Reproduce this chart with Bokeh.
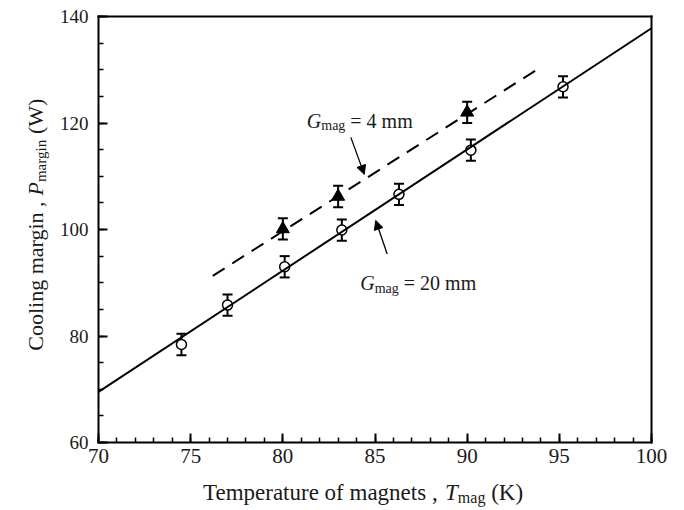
from bokeh.plotting import figure
from bokeh.models import (Range1d, SingleIntervalTicker, FixedTicker, LinearAxis,
                          ColumnDataSource, Whisker, TeeHead, Label, Arrow, NormalHead)
from bokeh.embed import file_html
from bokeh.resources import INLINE

# Measured cooling margin, G_mag = 20 mm (open circles)
circ_T = [74.5, 77.0, 80.1, 83.2, 86.3, 90.2, 95.2]
circ_P = [78.4, 85.8, 93.0, 99.9, 106.6, 114.9, 126.8]
circ_err = [2.0, 2.0, 2.0, 2.0, 2.0, 2.0, 2.0]

# Measured cooling margin, G_mag = 4 mm (filled triangles)
tri_T = [80.0, 83.0, 90.0]
tri_P = [100.1, 106.2, 122.0]
tri_err = [2.0, 2.0, 2.0]

# Linear fits
fit20_T = [70.0, 100.0]
fit20_P = [69.5, 137.8]
fit4_T = [76.2, 94.0]
fit4_P = [91.3, 130.5]

# axis extents and tick spacing
X_LIM = (70, 100)
Y_LIM = (60, 140)
X_STEP, Y_STEP = 5, 20

# page geometry (pixels): the axes box sits inside a full-canvas frame so that
# the axis titles with subscripts can be composed from text pieces
W, H = 684, 510
BOX_L, BOX_R, BOX_T, BOX_B = 98, 651, 16, 442
PX_X = (X_LIM[1] - X_LIM[0]) / (BOX_R - BOX_L)   # data units per pixel
PX_Y = (Y_LIM[1] - Y_LIM[0]) / (BOX_B - BOX_T)

x_range = Range1d(X_LIM[0] - BOX_L * PX_X, X_LIM[1] + (W - BOX_R) * PX_X)
y_range = Range1d(Y_LIM[0] - (H - BOX_B) * PX_Y, Y_LIM[1] + BOX_T * PX_Y)

FONT = "Liberation Serif"
INK = "#1a1a1a"

p = figure(frame_width=W, frame_height=H, x_range=x_range, y_range=y_range,
           x_axis_location=None, y_axis_location=None,
           output_backend="svg", toolbar_location=None, min_border=0)
p.grid.visible = False
p.outline_line_color = None
p.background_fill_color = "white"
p.border_fill_color = "white"


def style_axis(ax):
    ax.axis_line_width = 2
    ax.axis_line_color = "black"
    ax.axis_line_cap = "square"
    ax.major_tick_in = 9
    ax.major_tick_out = 0
    ax.minor_tick_in = 5
    ax.minor_tick_out = 0
    ax.major_tick_line_width = 2
    ax.minor_tick_line_width = 1.5
    ax.major_tick_line_color = "black"
    ax.minor_tick_line_color = "black"
    ax.major_label_text_font = FONT
    ax.major_label_text_color = INK
    return ax


xaxis = style_axis(LinearAxis(fixed_location=Y_LIM[0], bounds=X_LIM,
                              ticker=SingleIntervalTicker(interval=X_STEP, num_minor_ticks=5)))
xaxis.major_label_text_font_size = "21px"
xaxis.major_label_standoff = 6
yaxis = style_axis(LinearAxis(fixed_location=X_LIM[0], bounds=Y_LIM,
                              ticker=SingleIntervalTicker(interval=Y_STEP, num_minor_ticks=4)))
yaxis.major_label_text_font_size = "19px"
yaxis.major_label_standoff = 10
p.add_layout(xaxis, "below")
p.add_layout(yaxis, "left")

# plain top and right edges of the box
top = style_axis(LinearAxis(fixed_location=Y_LIM[1], bounds=X_LIM, ticker=FixedTicker(ticks=[])))
right = style_axis(LinearAxis(fixed_location=X_LIM[1], bounds=Y_LIM, ticker=FixedTicker(ticks=[])))
p.add_layout(top, "above")
p.add_layout(right, "right")

# error bars
src_c = ColumnDataSource(dict(x=circ_T, y=circ_P,
                              lo=[v - e for v, e in zip(circ_P, circ_err)],
                              hi=[v + e for v, e in zip(circ_P, circ_err)]))
src_t = ColumnDataSource(dict(x=tri_T, y=tri_P,
                              lo=[v - e for v, e in zip(tri_P, tri_err)],
                              hi=[v + e for v, e in zip(tri_P, tri_err)]))
for src in (src_c, src_t):
    p.add_layout(Whisker(source=src, base="x", lower="lo", upper="hi",
                         dimension="height", line_width=2, line_color="black",
                         lower_head=TeeHead(size=10, line_width=2, line_color="black"),
                         upper_head=TeeHead(size=10, line_width=2, line_color="black")))

p.scatter("x", "y", source=src_c, marker="circle", size=10,
          fill_color="white", line_color="black", line_width=1.5)
p.scatter("x", "y", source=src_t, marker="triangle", size=13,
          fill_color="black", line_color="black", line_width=1)

p.line(fit20_T, fit20_P, line_color="black", line_width=2)
p.line(fit4_T, fit4_P, line_color="black", line_width=2, line_dash="14 9")

# Times-metric advance widths (per 1000 em) for composing subscript runs
W_REG = {" ": 250, ",": 250, "(": 333, ")": 333, "=": 564, "0": 500, "2": 500,
         "4": 500, "C": 667, "K": 722, "T": 611, "W": 944, "a": 444, "e": 444,
         "f": 333, "g": 500, "i": 278, "l": 278, "m": 778, "n": 500, "o": 500,
         "p": 500, "r": 333, "s": 389, "t": 278, "u": 500}
W_ITAL = {"G": 722, "P": 611, "T": 556}


def run_width(txt, size, italic):
    table = W_ITAL if italic else W_REG
    return sum(table.get(ch, 500) for ch in txt) * size / 1000.0


def add_runs(x0, y0, runs, angle=0, anchor="left"):
    """Place a row of text pieces; runs = (text, size_px, italic, drop_px)."""
    total = sum(run_width(t, s, i) for t, s, i, _ in runs)
    offset = -total / 2 if anchor == "center" else 0.0
    for txt, size, italic, drop in runs:
        shown = txt.lstrip(" ")
        lead = run_width(txt[:len(txt) - len(shown)], size, italic)
        pos = offset + lead
        if angle == 0:
            x, y = x0 + pos * PX_X, y0 - drop * PX_Y
        else:
            x, y = x0 + drop * PX_X, y0 + pos * PX_Y
        p.add_layout(Label(x=x, y=y, text=shown, angle=angle, angle_units="deg",
                           text_font=FONT, text_font_size=f"{size}px",
                           text_font_style="italic" if italic else "normal",
                           text_color=INK, text_align="left",
                           text_baseline="alphabetic"))
        offset += run_width(txt, size, italic)


# axis titles
add_runs(84.35, 50.6, [("Temperature of magnets , ", 23, False, 0),
                       ("T", 23, True, 0), ("mag", 16, False, 5),
                       (" (K)", 23, False, 0)], anchor="center")
add_runs(66.6, 100.9, [("Cooling margin , ", 22, False, 0),
                       ("P", 22, True, 0), ("margin", 15, False, 5),
                       (" (W)", 22, False, 0)], angle=90, anchor="center")

# curve annotations
add_runs(81.3, 120.4, [("G", 20, True, 0), ("mag", 14, False, 5),
                       (" = 4 mm", 20, False, 0)])
add_runs(84.2, 89.9, [("G", 20, True, 0), ("mag", 14, False, 5),
                      (" = 20 mm", 20, False, 0)])

p.add_layout(Arrow(x_start=83.69, y_start=117.3, x_end=84.42, y_end=110.35,
                   line_width=1.3, line_color="black",
                   end=NormalHead(size=9, fill_color="black", line_color="black")))
p.add_layout(Arrow(x_start=85.66, y_start=95.4, x_end=85.04, y_end=101.7,
                   line_width=1.3, line_color="black",
                   end=NormalHead(size=9, fill_color="black", line_color="black")))

open("out.html", "w").write(file_html(p, INLINE))
